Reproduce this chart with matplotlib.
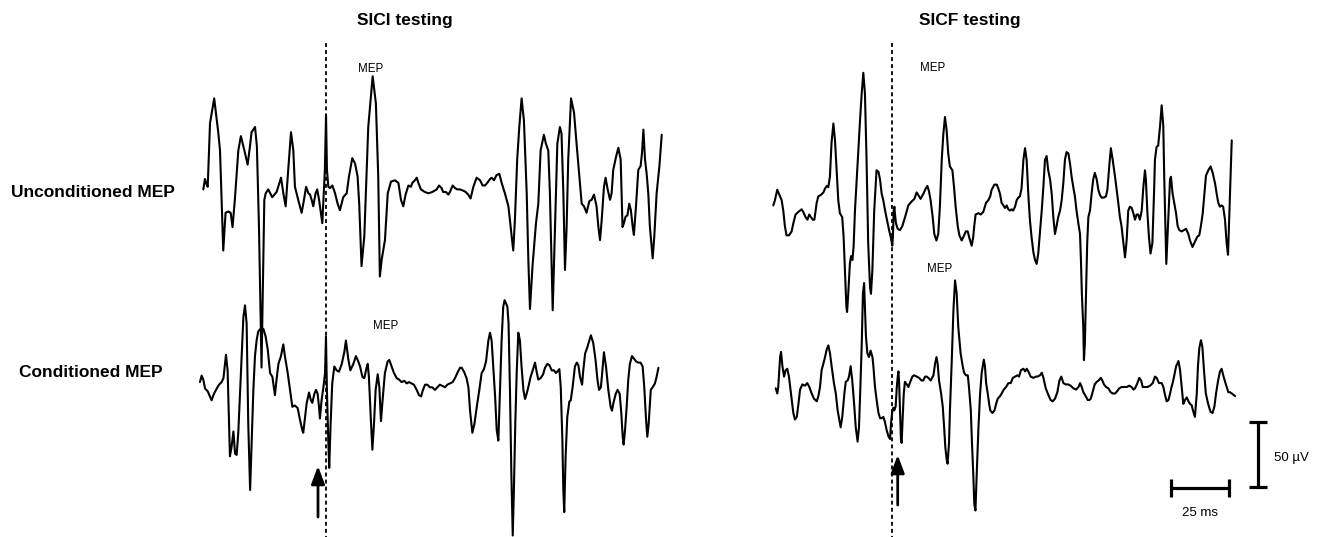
import matplotlib
matplotlib.use("Agg")
import matplotlib.pyplot as plt

plt.rcParams["font.family"] = ["Liberation Sans", "DejaVu Sans"]

# EMG sweeps: (time in ms from sweep start, amplitude in uV)
sici_unconditioned = [
    (0, 3), (0.7, 11), (1.4, 7), (1.9, 5), (2.9, 54), (4.7, 73), (6.5, 46), (7.2, 33), (8.6, -44), (9.6, -15),
    (10.8, -14), (11.8, -15), (12.6, -26), (13.6, -5), (15.1, 33), (16.2, 44), (17.7, 33), (19.1, 22), (20.1, 36),
    (20.8, 47), (22.3, 51), (23.1, 36), (24.0, -26), (25.1, -134), (26.3, -5), (26.9, 0), (28.0, 3), (29.7, -3),
    (31.6, 1), (33.5, 12), (34.5, 0), (35.5, -10), (36.6, 18), (37.8, 47), (38.8, 33), (39.5, 5), (40.9, -5),
    (42.4, -15), (43.4, -5), (44.3, 5), (45.3, 0), (46.0, -1), (46.7, -5), (47.4, -10), (48.4, 0), (49.1, 3),
    (49.9, -5), (50.7, -15), (51.3, -23), (51.9, 0), (52.4, 18), (52.9, 60), (53.3, 18), (53.9, 5), (54.6, 4),
    (55.6, 6), (56.8, 0), (57.9, -8), (58.9, -13), (60.3, -3), (61.8, 0), (62.8, 13), (64.2, 27), (65.4, 23),
    (66.5, 13), (67.2, -8), (68.2, -56), (69.4, -33), (71.1, 51), (73.0, 90), (74.4, 69), (75.4, 13), (76.1, -64),
    (76.9, -51), (78.3, -36), (79.5, 0), (80.9, 9), (82.6, 10), (84.1, 8), (85.2, -5), (86.2, -10), (87.2, -1),
    (88.4, 6), (89.5, 5), (90.1, 8), (91.2, 10), (92.0, 12), (92.7, 8), (93.8, 3), (95.5, 1), (97.0, 0), (98.7, 1),
    (100.6, 3), (101.6, 6), (102.7, 4), (103.4, 1), (104.6, 1), (105.6, -1), (106.3, 1), (107.5, 6), (108.5, 4),
    (109.5, 3), (110.6, 3), (112.1, 2), (113.1, 1), (114.2, -1), (115.2, -4), (116.4, 5), (117.8, 12), (119.3, 10),
    (120.4, 6), (121.4, 6), (122.4, 8), (123.6, 11), (124.3, 12), (125.3, 10), (126.4, 14), (127.6, 15), (128.6, 8),
    (130.0, 0), (131.5, -10), (132.2, -21), (132.9, -33), (133.6, -44), (134.3, -21), (135.3, 26), (136.2, 51),
    (137.2, 73), (138.2, 56), (139.4, 0), (140.1, -51), (140.8, -89), (141.9, -56), (143.4, -23), (144.4, -8),
    (145.4, 33), (146.8, 45), (147.7, 38), (148.7, 33), (149.4, 0), (150.1, -51), (150.6, -90), (151.6, -26),
    (152.6, 38), (153.7, 51), (154.4, 46), (155.2, 0), (155.9, -59), (156.6, -26), (157.3, 26), (158.5, 73),
    (159.8, 62), (160.9, 38), (162.1, 13), (163.1, -8), (164.1, -10), (165.2, -15), (166.4, -6), (167.4, -5),
    (168.4, -1), (169.5, -10), (170.3, -26), (171.0, -36), (171.7, -21), (172.7, 5), (173.4, 12), (174.3, 3),
    (175.3, -5), (176.0, 0), (176.7, 18), (177.9, 28), (178.9, 35), (179.9, 26), (180.3, 0), (180.7, -26),
    (181.3, -23), (182.0, -18), (182.8, -17), (183.6, -8), (184.3, -13), (185.1, -26), (185.6, -32), (186.5, -10),
    (187.5, 18), (188.5, 21), (189.1, 31), (189.7, 49), (190.4, 26), (191.1, 15), (191.8, 0), (192.5, -26),
    (193.7, -50), (194.4, -33), (195.4, 0), (196.6, 21), (197.6, 45),
]

sici_conditioned = [
    (0, 3), (0.7, 8), (1.4, 5), (2.2, -2), (3.3, -4), (4.3, -8), (5.0, -11), (6.0, -6), (7.2, -2), (8.2, 1),
    (9.3, 3), (10.1, 6), (11.2, 24), (11.9, 12), (12.9, -54), (13.6, -47), (14.4, -35), (15.1, -52), (15.8, -53),
    (16.5, -36), (17.2, -8), (18.0, 23), (18.7, 53), (19.4, 62), (20.1, 48), (20.8, -29), (21.6, -80), (22.3, -42),
    (23.0, -3), (23.7, 23), (24.4, 35), (25.1, 42), (26.1, 44), (27.3, 44), (28.3, 38), (29.2, 28), (30.2, 10),
    (31.2, 7), (32.3, -7), (33.0, 5), (33.8, 17), (34.9, 23), (35.9, 32), (36.6, 23), (37.8, 10), (38.8, -3),
    (39.8, -16), (40.9, -15), (42.1, -17), (43.1, -26), (44.1, -34), (44.5, -36), (45.3, -24), (46.0, -13),
    (47.0, -5), (47.8, -11), (48.4, -13), (49.3, -6), (50.0, -3), (50.7, -6), (51.3, -16), (51.7, -25),
    (52.4, -11), (53.2, -1), (53.9, 10), (54.3, 38), (54.7, -3), (55.3, -42), (55.7, -63), (56.3, -29), (57.0, 2),
    (57.9, 15), (58.9, 12), (59.9, 11), (61.1, 17), (62.2, 26), (62.9, 35), (63.9, 21), (64.8, 12), (66.1, 17),
    (67.2, 23), (68.2, 19), (69.0, 15), (70.0, 7), (70.8, 6), (71.8, 14), (72.3, 17), (72.8, 7), (73.6, -24),
    (74.3, -49), (75.0, -29), (75.7, -3), (76.6, 9), (77.3, -1), (78.0, -27), (78.7, -11), (79.7, 10), (80.9, 19),
    (81.6, 20), (82.6, 15), (83.6, 10), (84.8, 6), (85.8, 5), (86.9, 3), (88.1, 4), (89.1, 2), (90.1, 3),
    (91.2, 2), (92.2, 1), (93.4, -3), (94.4, -7), (95.3, -8), (96.1, -3), (97.0, 1), (98.0, 1), (99.1, -1),
    (100.1, -1), (101.3, -3), (102.3, -1), (103.4, 1), (104.6, 0), (105.6, -1), (106.6, 1), (107.8, 2), (108.9, 3),
    (109.9, 6), (110.9, 10), (112.1, 14), (112.8, 14), (113.8, 11), (114.9, 6), (115.7, -1), (116.4, -19),
    (117.4, -36), (118.3, -29), (119.3, -16), (120.4, -3), (121.4, 10), (122.4, 13), (123.3, 19), (124.3, 35),
    (125.0, 41), (125.7, 35), (126.4, 15), (127.2, -8), (127.9, -34), (128.6, -42), (129.3, -3), (130.0, 35),
    (130.7, 61), (131.3, 66), (132.5, 61), (133.0, 48), (133.6, -3), (134.2, -67), (134.8, -115), (135.3, -80),
    (135.9, -29), (136.5, 10), (137.2, 41), (137.9, 35), (138.6, 15), (139.4, -3), (140.1, -10), (140.8, -6),
    (141.5, -1), (142.5, 7), (143.4, 12), (144.4, 18), (145.1, 11), (145.8, 5), (146.8, 6), (147.9, 9),
    (148.7, 14), (149.7, 17), (150.6, 16), (151.6, 12), (152.6, 12), (153.4, 10), (154.0, 11), (154.9, 13),
    (155.5, -1), (156.2, -42), (156.6, -80), (157.0, -97), (157.6, -54), (158.3, -24), (159.2, -12), (159.8, -11),
    (160.6, -1), (161.6, 15), (162.4, 18), (163.1, 16), (163.8, 7), (164.7, 1), (165.2, 12), (166.0, 25),
    (167.0, 30), (167.8, 35), (168.5, 39), (169.5, 33), (170.5, 20), (171.3, 5), (172.0, -3), (172.8, -1),
    (173.6, 15), (174.1, 26), (175.0, 15), (176.0, -3), (177.0, -16), (177.6, -19), (178.2, -13), (179.2, -6),
    (180.0, -3), (180.9, -6), (181.6, -21), (182.2, -39), (182.6, -45), (183.2, -34), (183.9, -16), (184.6, 5),
    (185.3, 17), (186.2, 23), (187.1, 21), (187.9, 19), (188.9, 18), (189.9, 18), (190.8, 15), (191.5, -1),
    (192.2, -24), (192.8, -39), (193.4, -29), (194.3, -3), (195.1, -1), (196.1, 2), (196.8, 7), (197.6, 14),
]

sicf_unconditioned = [
    (0, 1), (0.7, 5), (1.7, 13), (2.9, 8), (3.6, 5), (4.3, -3), (5.0, -15), (5.7, -22), (6.8, -22), (7.9, -19),
    (8.6, -13), (9.6, -6), (10.8, -4), (12.2, -2), (12.9, -4), (13.9, -8), (14.7, -10), (15.5, -6), (16.2, -8),
    (17.0, -10), (17.7, -10), (18.7, 3), (19.4, 8), (20.5, 9), (21.6, 11), (22.3, 14), (23.1, 16), (23.7, 15),
    (24.4, 23), (25.1, 49), (25.9, 64), (26.6, 51), (27.3, 28), (28.0, 5), (28.7, -5), (29.7, -8), (30.3, -23),
    (30.9, -51), (31.5, -77), (31.8, -81), (32.3, -67), (33.0, -44), (33.5, -38), (34.1, -41), (34.6, -31),
    (35.2, -3), (36.4, 36), (37.4, 67), (38.1, 87), (38.8, 103), (39.5, 87), (40.2, 36), (40.9, -28), (41.7, -62),
    (42.1, -67), (42.7, -49), (43.5, -3), (44.5, 28), (45.3, 27), (46.0, 21), (46.7, 10), (47.4, 5), (48.4, -5),
    (49.3, -13), (49.9, -18), (50.7, -24), (51.3, -30), (51.6, -21), (51.9, -3), (52.2, 0), (52.4, -5),
    (52.9, -13), (53.6, -17), (54.6, -18), (55.6, -15), (56.8, -8), (58.2, 1), (59.6, 4), (60.8, 6), (61.8, 11),
    (62.5, 9), (63.5, 6), (64.7, 10), (65.7, 14), (66.4, 16), (67.1, 12), (67.8, 5), (68.7, -8), (69.4, -21),
    (70.3, -26), (71.1, -21), (71.8, 0), (72.6, 36), (73.3, 56), (74.0, 69), (74.7, 59), (75.4, 41), (76.1, 31),
    (77.2, 28), (77.9, 15), (78.6, 0), (79.5, -15), (80.2, -22), (81.2, -26), (82.0, -23), (83.0, -19),
    (83.8, -19), (84.5, -24), (85.5, -30), (86.2, -23), (86.6, -15), (87.2, -6), (88.4, -5), (89.4, -6),
    (90.5, -4), (91.7, 3), (92.7, 5), (93.5, 8), (94.1, 13), (95.3, 17), (96.3, 17), (97.0, 14), (97.7, 10),
    (98.4, 3), (99.9, -1), (100.6, 1), (101.3, -2), (102.0, -3), (102.7, -2), (103.4, -3), (104.2, 0), (104.9, 5),
    (105.6, 7), (106.3, 8), (107.0, 14), (107.8, 36), (108.5, 45), (109.2, 36), (109.9, 10), (110.6, -10),
    (111.3, -23), (112.1, -35), (112.8, -41), (113.5, -44), (114.2, -36), (114.9, -21), (115.7, -3), (116.4, 15),
    (117.1, 36), (117.8, 39), (118.5, 28), (119.3, 21), (120.0, 10), (120.7, -8), (121.4, -21), (122.1, -15),
    (122.8, -8), (123.6, -3), (124.3, 5), (125.0, 18), (125.7, 36), (126.4, 42), (127.2, 41), (127.9, 33),
    (128.6, 23), (129.3, 15), (130.0, 8), (130.7, -3), (131.5, -13), (132.2, -21), (132.6, -41), (133.0, -67),
    (133.6, -92), (133.9, -118), (134.3, -105), (134.8, -67), (135.3, -28), (135.8, -8), (136.5, -3), (137.2, 10),
    (137.9, 21), (138.6, 26), (139.4, 21), (140.1, 13), (140.8, 9), (141.5, 7), (142.5, 7), (143.4, 8),
    (144.0, 13), (144.8, 31), (145.5, 45), (146.3, 36), (147.3, 23), (148.0, 13), (148.7, 3), (149.4, -8),
    (150.1, -15), (150.9, -28), (151.6, -39), (152.3, -26), (153.0, -3), (153.7, 0), (154.5, -1), (155.2, -5),
    (155.9, -10), (156.6, -6), (157.3, -6), (158.0, -10), (158.8, -3), (159.5, 15), (160.2, 28), (160.6, 21),
    (161.2, -3), (161.9, -23), (162.6, -36), (163.4, -28), (164.1, 10), (164.5, 36), (165.2, 46), (165.9, 47),
    (166.7, 62), (167.4, 78), (168.1, 62), (168.5, 23), (169.0, -15), (169.4, -44), (169.8, -28), (170.4, -3),
    (171.0, 21), (171.4, 23), (172.1, 10), (172.8, 3), (173.6, -5), (174.3, -15), (175.0, -18), (176.0, -19),
    (177.0, -18), (177.9, -17), (178.9, -21), (179.6, -26), (180.7, -31), (181.7, -27), (182.8, -23),
    (183.6, -22), (184.3, -15), (185.1, -5), (185.8, 10), (186.5, 24), (187.5, 28), (188.5, 31), (189.4, 26),
    (190.4, 18), (191.1, 10), (191.8, 3), (192.5, 0), (193.2, 1), (193.9, 0), (194.7, -10), (195.4, -28),
    (196.0, -37), (196.6, -3), (197.1, 28), (197.6, 51),
]

sicf_conditioned = [
    (0, 0), (0.7, -4), (1.1, 1), (1.9, 24), (2.3, 28), (2.9, 17), (3.6, 9), (4.3, 14), (5.0, 15), (5.7, 9),
    (6.6, -4), (7.6, -19), (8.3, -24), (9.1, -22), (9.8, -12), (10.5, -1), (11.5, 3), (12.6, 2), (13.6, 4),
    (14.5, 1), (15.5, -4), (16.5, -8), (17.7, -10), (18.4, -6), (19.1, 1), (19.8, 14), (21.0, 22), (22.0, 30),
    (22.7, 33), (23.4, 27), (24.1, 17), (25.1, 4), (25.9, -4), (26.7, -17), (27.4, -24), (28.0, -30), (28.7, -22),
    (29.6, -4), (30.2, 5), (31.0, 6), (31.6, 9), (32.3, 17), (33.0, 6), (33.8, -12), (34.5, -30), (35.3, -41),
    (35.9, -30), (36.5, 1), (37.1, 35), (37.6, 73), (38.1, 81), (38.5, 60), (38.9, 40), (39.5, 27), (40.2, 24),
    (40.9, 29), (41.7, 24), (42.1, 17), (42.8, 1), (43.5, -9), (44.3, -19), (45.0, -23), (45.7, -23), (46.4, -22),
    (47.1, -26), (47.8, -32), (48.6, -37), (49.3, -39), (49.7, -27), (50.3, -17), (50.7, -15), (51.1, -17),
    (51.7, -14), (52.2, 1), (52.6, 9), (52.9, 13), (53.2, 4), (53.6, -17), (54.0, -40), (54.3, -42), (54.7, -24),
    (55.2, -4), (55.7, 5), (56.5, 3), (57.2, 1), (58.0, 5), (58.9, 9), (59.6, 10), (60.8, 9), (61.8, 8),
    (62.9, 6), (63.6, 6), (64.4, 9), (65.1, 9), (65.8, 8), (66.8, 6), (68.0, 10), (68.7, 19), (69.3, 24),
    (69.8, 19), (70.4, 6), (71.3, -4), (72.0, -14), (72.6, -30), (73.1, -45), (73.7, -55), (74.1, -58),
    (74.7, -42), (75.1, -17), (75.9, 22), (76.6, 60), (77.3, 83), (78.0, 73), (78.7, 47), (79.7, 27), (80.6, 17),
    (81.2, 12), (82.0, 10), (82.8, 10), (83.3, 1), (84.1, -17), (84.6, -42), (85.2, -68), (85.6, -89), (86.1, -94),
    (86.6, -68), (87.4, -30), (88.1, -4), (88.8, 12), (89.7, 22), (90.2, 17), (90.7, 4), (91.4, -4), (92.0, -12),
    (92.5, -17), (93.4, -19), (94.3, -17), (95.0, -12), (95.7, -8), (96.7, -6), (97.4, -4), (98.3, -1),
    (99.3, 1), (100.3, 4), (101.3, 4), (102.2, 8), (103.2, 9), (104.2, 10), (104.9, 9), (105.7, 14), (106.8, 15),
    (107.5, 13), (108.2, 15), (108.9, 13), (109.9, 9), (111.1, 8), (112.1, 9), (112.9, 9), (113.9, 10),
    (114.7, 12), (115.4, 8), (116.4, 0), (117.5, -5), (118.5, -9), (119.4, -10), (120.4, -8), (121.4, -3),
    (122.3, 6), (123.1, 9), (124.0, 4), (125.0, 3), (126.1, 3), (127.1, 2), (128.3, 0), (129.5, -1), (130.5, 1),
    (131.2, 4), (131.9, 1), (132.6, -3), (133.6, -6), (134.5, -9), (135.2, -9), (135.8, -8), (136.6, -3),
    (137.5, 3), (138.4, 5), (139.2, 6), (140.1, 8), (140.8, 6), (141.5, 3), (142.4, 1), (143.4, 0), (144.4, -3),
    (145.3, -4), (146.3, -4), (147.3, -2), (148.1, 0), (149.1, 1), (150.1, 1), (151.3, 1), (152.4, 2), (153.4, 1),
    (154.2, -1), (154.9, 0), (155.9, 4), (156.7, 8), (157.5, 6), (158.2, 1), (159.2, 1), (160.2, 1), (161.4, 2),
    (162.5, 4), (163.5, 9), (164.2, 8), (165.2, 4), (166.4, 4), (167.1, 1), (167.8, -5), (168.5, -10),
    (169.3, -9), (170.0, -4), (170.6, 1), (171.1, 4), (171.7, 9), (172.6, 17), (173.6, 21), (174.3, 14),
    (175.0, 1), (175.7, -12), (176.4, -9), (177.2, -7), (177.9, -10), (178.6, -12), (179.3, -13), (180.0, -18),
    (180.7, -22), (181.5, -4), (182.0, 17), (182.6, 31), (183.3, 37), (183.9, 32), (184.6, 14), (185.4, -4),
    (186.4, -12), (187.4, -18), (188.3, -19), (189.1, -14), (189.8, -4), (190.7, 6), (191.5, 13), (192.2, 15),
    (192.9, 10), (193.7, 5), (194.4, 1), (195.1, -3), (195.8, -3), (196.6, -4), (197.3, -5), (198.0, -6),
]

panel_titles = ["SICI testing", "SICF testing"]
row_labels = ["Unconditioned MEP", "Conditioned MEP"]
scale_ms = 25
scale_uv = 50

# canvas: one axes over the whole figure, x in ms, y in uV (drawn downwards from the top)
W, H = 1323, 537
PX_PER_MS = 2.32
PX_PER_UV = 1.30

fig = plt.figure(figsize=(W / 100, H / 100), dpi=100)
ax = fig.add_axes([0, 0, 1, 1])
ax.set_xlim(0, W / PX_PER_MS)
ax.set_ylim(-H / PX_PER_UV, 0)
ax.axis("off")


def at(px, py):
    # layout position in pixels -> data coordinates
    return px / PX_PER_MS, -py / PX_PER_UV


# sweep start (x) and baseline (y) in pixels
sweeps = [
    (sici_unconditioned, 203.3, 193.3),
    (sici_conditioned, 200.0, 386.0),
    (sicf_unconditioned, 773.3, 206.7),
    (sicf_conditioned, 775.7, 388.3),
]
for pts, sx, sy in sweeps:
    t0, b0 = at(sx, sy)
    ax.plot([t0 + t for t, v in pts], [b0 + v for t, v in pts],
            color="black", lw=1.5, solid_joinstyle="round", solid_capstyle="round")

# stimulus markers
for dx in (326, 892.3):
    x, ytop = at(dx, 43)
    _, ybot = at(dx, 540)
    ax.plot([x, x], [ytop, ybot], color="black", lw=1.3, linestyle=(0, (2.2, 1.7)))

for ax_px, tip, tail in [(318, 466, 517), (897.7, 455, 505)]:
    ax.annotate("", xy=at(ax_px, tip), xytext=at(ax_px, tail),
                arrowprops=dict(arrowstyle="-|>,head_length=0.77,head_width=0.29",
                                mutation_scale=14, lw=2.0, color="black",
                                shrinkA=0, shrinkB=0))

# titles and labels
for title, cx in zip(panel_titles, (404.5, 970)):
    ax.text(*at(cx, 24.5), title, ha="center", va="baseline", fontsize=12.5, fontweight="bold")
for label, cx, by in zip(row_labels, (93, 90.5), (196.7, 376.7)):
    ax.text(*at(cx, by), label, ha="center", va="baseline", fontsize=12.5, fontweight="bold")
for cx, by in [(371, 71.7), (386, 329.3), (933, 70.7), (940, 271.7)]:
    ax.text(*at(cx, by), "MEP", ha="center", va="baseline", fontsize=8.3)

# scale bars
hx, hy = at(1171, 487.7)
ax.plot([hx, hx + scale_ms], [hy, hy], color="black", lw=2.3, marker="|", ms=13, mew=2.3,
        solid_capstyle="butt")
ax.text(*at(1200, 516), f"{scale_ms} ms", ha="center", va="baseline", fontsize=9.5)
vx, vy = at(1257.7, 486.7)
ax.plot([vx, vx], [vy, vy + scale_uv], color="black", lw=2.3, marker="_", ms=13, mew=2.3,
        solid_capstyle="butt")
ax.text(*at(1274, 460.7), f"{scale_uv} \u00b5V", ha="left", va="baseline", fontsize=9.5)

fig.savefig("out.png", dpi=100, facecolor="white")
